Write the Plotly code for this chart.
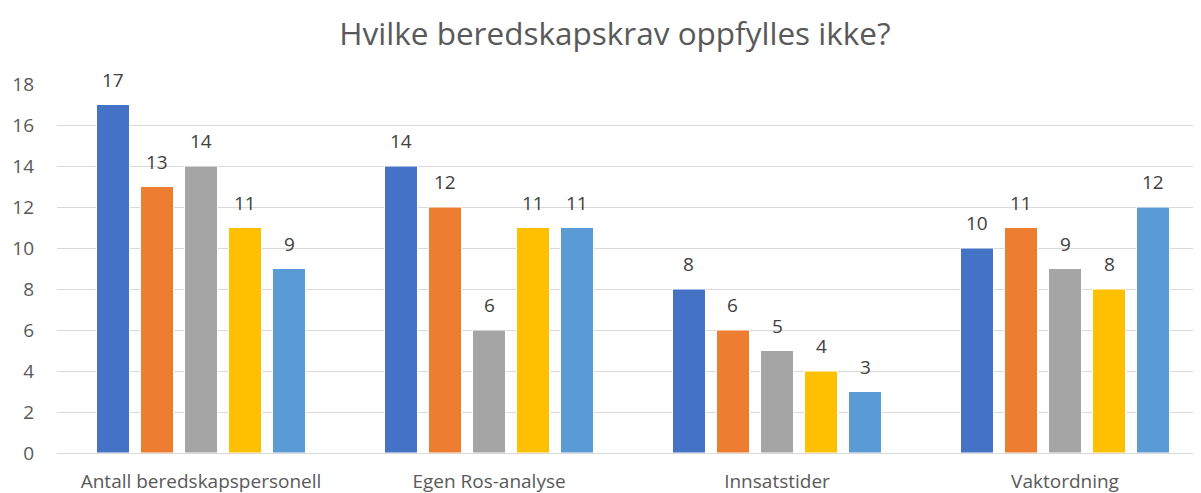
import plotly.graph_objects as go

categories = ["Antall beredskapspersonell", "Egen Ros-analyse", "Innsatstider", "Vaktordning"]
series_names = ["Serie 1", "Serie 2", "Serie 3", "Serie 4", "Serie 5"]
s1 = [17, 14, 8, 10]
s2 = [13, 12, 6, 11]
s3 = [14, 6, 5, 9]
s4 = [11, 11, 4, 8]
s5 = [9, 11, 3, 12]
colors = ["#4472C4", "#ED7D31", "#A5A5A5", "#FFC000", "#5B9BD5"]
y_ticks = list(range(0, 19, 2))

W, H = 1201, 485
ML, MR, MT, MB = 49, 0, 76, 40
BARGAP = 0.236

fig = go.Figure()
all_series = [s1, s2, s3, s4, s5]
for name, vals, col in zip(series_names, all_series, colors):
    fig.add_trace(go.Bar(
        x=categories, y=vals, name=name,
        marker=dict(color=col, line=dict(color="white", width=1)),
        cliponaxis=False,
    ))

# value labels above bars
cat_px = (W - ML - MR) / len(categories)
slot = cat_px * (1 - BARGAP) / len(all_series)
n = len(all_series)
for i, vals in enumerate(all_series):
    shift = (i - (n - 1) / 2) * slot
    for c, v in zip(categories, vals):
        fig.add_annotation(x=c, y=v, text=str(v), showarrow=False, xref="x", yref="y",
                           xshift=shift, yshift=25, yanchor="middle",
                           font=dict(size=19, color="#404040"))

fig.update_layout(
    width=W, height=H,
    paper_bgcolor="white", plot_bgcolor="white",
    showlegend=False,
    barmode="group", bargap=BARGAP, bargroupgap=0.25,
    margin=dict(l=ML, r=MR, t=MT, b=MB),
    font=dict(family="Open Sans, sans-serif", color="#595959"),
    title=dict(text="Hvilke beredskapskrav oppfylles ikke?", x=(615 - 8) / W, xanchor="center",
               y=1 - 26 / H, yanchor="middle", font=dict(size=31.5, color="#595959")),
    xaxis=dict(showgrid=False, showline=False, ticks="", tickfont=dict(size=19, color="#595959"),
               ticklabelstandoff=15),
    yaxis=dict(range=[0, 18], tickvals=y_ticks, showgrid=True, gridcolor="#D9D9D9", gridwidth=1,
               zeroline=True, zerolinecolor="#D9D9D9", zerolinewidth=1,
               showline=False, ticks="", tickfont=dict(size=19, color="#595959"),
               ticklabelstandoff=22),
)

fig.write_html("out.html")
